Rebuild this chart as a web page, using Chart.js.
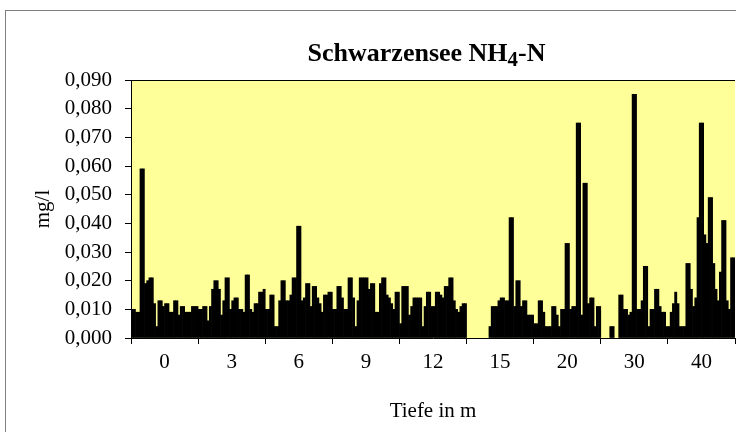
<!DOCTYPE html>
<html>
<head>
<meta charset="utf-8">
<script src="https://cdn.jsdelivr.net/npm/chart.js@4.4.1/dist/chart.umd.min.js"></script>
<style>
  html, body { margin: 0; padding: 0; background: #fff; overflow: hidden; }
  #wrap { position: relative; width: 736px; height: 432px; }
  #title {
    position: absolute; left: 0; top: 40px; width: 853px;
    text-align: center; font: bold 26px 'Liberation Serif', serif; line-height: 1;
    color: #000; white-space: nowrap;
  }
  #title sub { font-size: 0.8em; vertical-align: -0.22em; line-height: 0; }
</style>
</head>
<body>
<div id="wrap">
  <canvas id="chart" width="736" height="432"></canvas>
  <div id="title">Schwarzensee NH<sub>4</sub>-N</div>
</div>
<script>
// depth categories (x axis)
const depths = ['0', '3', '6', '9', '12', '15', '20', '30', '40'];

// NH4-N in mg/l, one value per sampling (30 samplings) for each depth
const d0  = [0.010,0.010,0.009,0.009,0.059,0.059,0.019,0.020,0.021,0.021,0.012,0.004,0.013,0.013,0.011,0.012,0.012,0.009,0.009,0.013,0.013,0.008,0.011,0.011,0.009,0.009,0.009,0.011,0.011,0.011];
const d3  = [0.010,0.010,0.011,0.011,0.006,0.011,0.017,0.020,0.020,0.017,0.008,0.013,0.021,0.021,0.010,0.013,0.014,0.014,0.010,0.010,0.009,0.022,0.022,0.010,0.009,0.012,0.012,0.016,0.016,0.017];
const d6  = [0.010,0.010,0.015,0.015,0.004,0.004,0.013,0.020,0.020,0.013,0.013,0.015,0.021,0.021,0.039,0.039,0.013,0.014,0.019,0.019,0.011,0.018,0.018,0.014,0.012,0.009,0.015,0.015,0.016,0.016];
const d9  = [0.010,0.010,0.018,0.018,0.014,0.010,0.010,0.021,0.021,0.014,0.004,0.013,0.021,0.021,0.021,0.021,0.017,0.019,0.019,0.009,0.009,0.019,0.021,0.021,0.015,0.014,0.012,0.010,0.016,0.016];
const d12 = [0.005,0.018,0.018,0.018,0.008,0.011,0.014,0.014,0.014,0.014,0.004,0.011,0.016,0.016,0.011,0.011,0.016,0.016,0.015,0.014,0.018,0.018,0.021,0.021,0.013,0.010,0.009,0.011,0.012,0.012];
const d15 = [null,null,null,null,null,null,null,null,null,null,0.004,0.011,0.011,0.011,0.013,0.014,0.014,0.013,0.013,0.042,0.042,0.011,0.020,0.020,0.011,0.013,0.013,0.008,0.008,0.008];
const d20 = [0.005,0.005,0.013,0.013,0.009,0.004,0.004,0.004,0.011,0.011,0.008,0.004,0.010,0.010,0.033,0.033,0.010,0.011,0.011,0.075,0.075,0.008,0.054,0.054,0.012,0.014,0.014,0.004,0.011,0.011];
const d30 = [null,null,null,null,0.004,0.004,null,null,0.015,0.015,0.010,0.010,0.008,0.009,0.085,0.085,0.010,0.010,0.013,0.025,0.025,0.004,0.010,0.010,0.017,0.017,0.011,0.009,0.009,0.004];
const d40 = [0.004,0.009,0.012,0.016,0.012,0.004,0.004,0.004,0.026,0.026,0.017,0.011,0.014,0.042,0.075,0.075,0.036,0.033,0.049,0.049,0.026,0.017,0.013,0.023,0.041,0.041,0.013,0.010,0.028,0.028];

// y axis ticks
const yMin = 0, yMax = 0.09, yStep = 0.01;

const byDepth = [d0, d3, d6, d9, d12, d15, d20, d30, d40];

// one dataset per sampling, values taken across the depths
const datasets = d0.map((_, i) => ({
    data: byDepth.map(arr => arr[i]),
    backgroundColor: '#000000',
    borderWidth: 0,
    barPercentage: 1,
    categoryPercentage: 1
}));

// white page, grey chart frame, yellow plot area
const frame = {
    id: 'frame',
    beforeDraw(chart) {
        const ctx = chart.ctx, a = chart.chartArea;
        ctx.save();
        ctx.fillStyle = '#ffffff';
        ctx.fillRect(0, 0, chart.width, chart.height);
        ctx.strokeStyle = '#808080';
        ctx.lineWidth = 1;
        ctx.strokeRect(5.5, 10.5, 800, 500);
        ctx.fillStyle = '#ffff99';
        ctx.fillRect(a.left, a.top, a.right - a.left, a.bottom - a.top);
        ctx.restore();
    },
    afterDraw(chart) {
        const ctx = chart.ctx, a = chart.chartArea;
        ctx.save();
        ctx.strokeStyle = '#000000';
        ctx.lineWidth = 1;
        ctx.beginPath();
        ctx.moveTo(a.left, Math.round(a.top) + 0.5);
        ctx.lineTo(a.right, Math.round(a.top) + 0.5);
        ctx.stroke();
        ctx.restore();
    }
};

Chart.defaults.font.family = "'Liberation Serif', serif";
Chart.defaults.font.size = 21;
Chart.defaults.color = '#000000';

new Chart(document.getElementById('chart'), {
    type: 'bar',
    data: { labels: depths, datasets: datasets },
    options: {
        responsive: false,
        animation: false,
        layout: { padding: { top: 80, right: 1, bottom: 0, left: 0 } },
        plugins: {
            legend: { display: false },
            tooltip: { enabled: false }
        },
        scales: {
            x: {
                grid: { drawOnChartArea: false, tickLength: 6, color: '#000000' },
                border: { color: '#000000' },
                ticks: { padding: 6, maxRotation: 0 },
                title: { display: true, text: 'Tiefe in m', padding: { top: 0, bottom: 8 } },
                afterFit(scale) { scale.height = 94; }
            },
            y: {
                min: yMin,
                max: yMax,
                grid: { drawOnChartArea: false, tickLength: 6, color: '#000000' },
                border: { color: '#000000' },
                ticks: {
                    stepSize: yStep,
                    padding: 13,
                    callback: v => v.toFixed(3).replace('.', ',')
                },
                title: { display: true, text: 'mg/l', padding: { top: 31, bottom: 0 } },
                afterFit(scale) { scale.width = 131; }
            }
        }
    },
    plugins: [frame]
});
</script>
</body>
</html>
